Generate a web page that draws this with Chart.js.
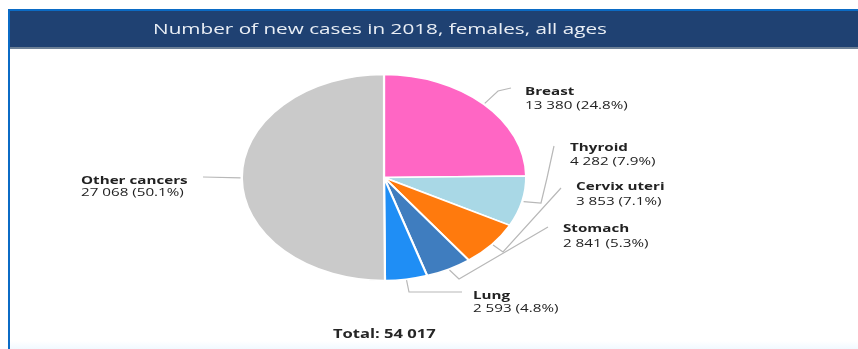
<!DOCTYPE html>
<html>
<head>
<meta charset="utf-8">
<script src="https://cdn.jsdelivr.net/npm/chart.js@4/dist/chart.umd.min.js"></script>
<style>
  html, body { margin:0; padding:0; background:#ffffff; }
  body { width:858px; height:349px; position:relative; overflow:hidden; }
  #frameLeft { position:absolute; left:8px; top:9px; width:2px; height:340px; background:#0b6bc5; }
  #header { position:absolute; left:8px; top:9px; width:850px; height:36px;
            background:#1f4172; border-top:2px solid #0b6bc5; border-bottom:2px solid #6d8096; }
  #bottomTint { position:absolute; left:10px; top:341px; width:848px; height:8px;
            background:linear-gradient(#ffffff, #f1f9ff); }
  #wrap { position:absolute; left:0; top:0; width:858px; height:349px; }
</style>
</head>
<body>
<div id="header"></div>
<div id="frameLeft"></div>
<div id="bottomTint"></div>
<div id="wrap"><canvas id="c" width="858" height="349"></canvas></div>
<script>
// ---- data ----
const chartTitle = 'Number of new cases in 2018, females, all ages';
const categories = ['Breast', 'Thyroid', 'Cervix uteri', 'Stomach', 'Lung', 'Other cancers'];
const newCases = [13380, 4282, 3853, 2841, 2593, 27068];
const percentLabels = ['24.8%', '7.9%', '7.1%', '5.3%', '4.8%', '50.1%'];
const totalCases = 54017;

// ---- styles ----
const sliceColors = ['#ff66c4', '#a9d8e6', '#ff7a0d', '#3f7dbf', '#1f8ef5', '#cacaca'];
const SX = 1.38;           // horizontal stretch of the whole original picture
const FONT = '"Open Sans", "Noto Sans", sans-serif';

// label layout (annotation positions): text anchor, line centers, leader-line bend points
const labelLayout = [
  { x: 525, y1: 92,  y2: 106, pts: [[498, 91], [511, 88]] },
  { x: 570, y1: 148, y2: 162, pts: [[541, 203], [547, 178], [554, 146]] },
  { x: 576, y1: 187, y2: 202, pts: [[503, 252], [561, 188]] },
  { x: 563, y1: 229, y2: 244, pts: [[459, 279], [548, 227]] },
  { x: 473, y1: 296, y2: 309, pts: [[409, 292], [462, 292]] },
  { x: 81,  y1: 181, y2: 193, pts: [[203, 177]] }
];

function fmt(n) { return String(n).replace(/\B(?=(\d{3})+(?!\d))/g, ' '); }

function stretchedText(ctx, text, x, y, font, align, color) {
  ctx.save();
  ctx.font = font;
  ctx.fillStyle = color;
  ctx.textBaseline = 'middle';
  ctx.translate(x, y);
  ctx.scale(SX, 1);
  ctx.textAlign = align;
  ctx.fillText(text, 0, 0);
  ctx.restore();
}

const ellipsePlugin = {
  id: 'ellipse',
  beforeDatasetsDraw(chart) {
    const a = chart.getDatasetMeta(0).data[0];
    const ctx = chart.ctx;
    ctx.save();
    ctx.translate(a.x, 0);
    ctx.scale(SX, 1);
    ctx.translate(-a.x, 0);
  },
  afterDatasetsDraw(chart) {
    chart.ctx.restore();
  },
  afterDraw(chart) {
    const ctx = chart.ctx;
    const arcs = chart.getDatasetMeta(0).data;
    // title
    stretchedText(ctx, chartTitle, 380, 30, '15px ' + FONT, 'center', '#e9eef5');
    arcs.forEach((arc, i) => {
      const L = labelLayout[i];
      const mid = (arc.startAngle + arc.endAngle) / 2;
      const r = arc.outerRadius + 1;
      const sx = arc.x + SX * r * Math.cos(mid);
      const sy = arc.y + r * Math.sin(mid);
      ctx.save();
      ctx.strokeStyle = '#b8b8b8';
      ctx.lineWidth = 1.2;
      ctx.beginPath();
      ctx.moveTo(sx, sy);
      L.pts.forEach(p => ctx.lineTo(p[0], p[1]));
      ctx.stroke();
      ctx.restore();
      stretchedText(ctx, categories[i], L.x, L.y1, 'bold 11px ' + FONT, 'left', '#222222');
      stretchedText(ctx, fmt(newCases[i]) + ' (' + percentLabels[i] + ')', L.x, L.y2, '11px ' + FONT, 'left', '#222222');
    });
    stretchedText(ctx, 'Total: ' + fmt(totalCases), 333, 335, 'bold 12px ' + FONT, 'left', '#262626');
  }
};

new Chart(document.getElementById('c'), {
  type: 'pie',
  data: {
    labels: categories,
    datasets: [{
      data: newCases,
      backgroundColor: sliceColors,
      borderColor: '#ffffff',
      borderWidth: 1.6
    }]
  },
  options: {
    responsive: false,
    animation: false,
    events: [],
    radius: 103,
    layout: { padding: { left: 0, right: 90, top: 6, bottom: 0 } },
    plugins: { legend: { display: false }, tooltip: { enabled: false }, title: { display: false } }
  },
  plugins: [ellipsePlugin]
});
</script>
</body>
</html>
